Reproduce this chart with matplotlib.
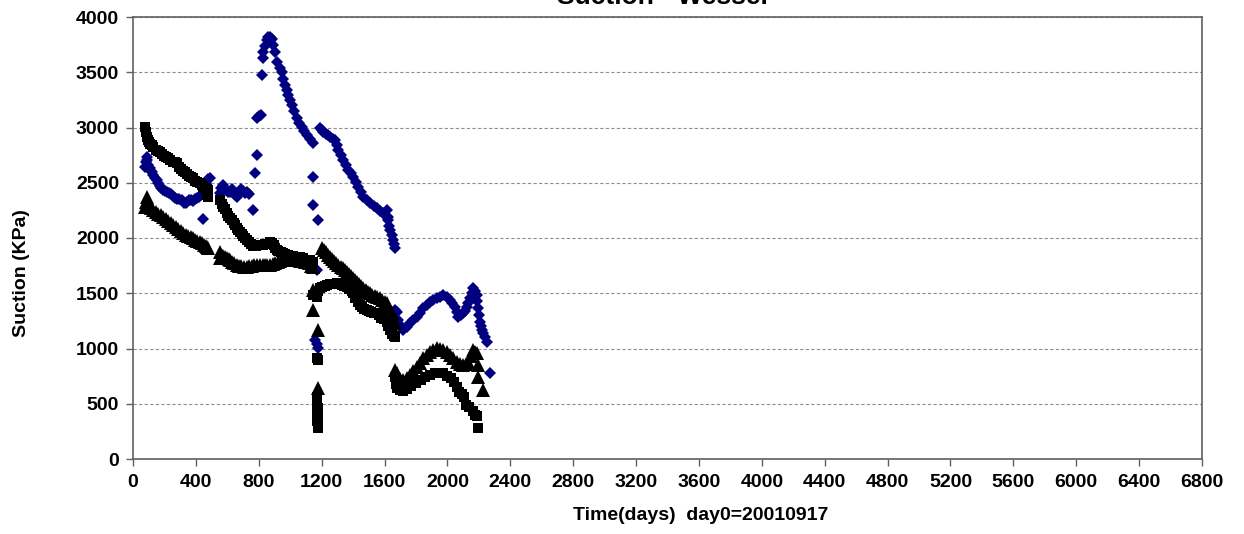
import matplotlib
matplotlib.use("Agg")
import matplotlib.pyplot as plt

# ---------------- data ----------------
blue_days = [76, 80, 86, 92, 98, 105, 112, 121, 130, 140, 150, 160, 170, 180, 191, 203, 215, 228, 240, 252,
             265, 280, 295, 310, 325, 335, 343, 355, 367, 380, 394, 408, 420, 432, 445, 455, 465, 477, 488, 445,
             553, 562, 572, 582, 592, 605, 617, 628, 640, 652, 664, 676, 688, 700, 712, 725, 737, 766,
             776, 786, 790, 800, 815, 819, 829, 829, 840, 850, 860, 871, 882, 892, 905, 914, 935, 946, 955,
             967, 977, 988, 998, 1009, 1025, 1041, 1057, 1073, 1089, 1105, 1126, 1147,
             1147, 1147, 1179, 1168, 1160, 1168, 1179,
             1190, 1200, 1211, 1225, 1240, 1253, 1270, 1285, 1296, 1306, 1322, 1338, 1354, 1370, 1386, 1402,
             1418, 1434, 1450, 1466, 1487, 1508, 1530, 1550, 1571, 1592, 1603, 1614, 1620, 1624, 1630, 1635,
             1645, 1656, 1662, 1667,
             1667, 1677, 1688, 1698, 1709, 1719, 1740, 1762, 1783, 1805, 1826, 1847, 1868, 1889, 1910, 1932,
             1953, 1974, 1995, 2016, 2032, 2048, 2060, 2070, 2085, 2101, 2112, 2122, 2133, 2144, 2155, 2165,
             2176, 2186, 2190, 2197, 2203, 2207, 2213, 2218, 2228, 2239, 2250, 2271]
blue_vals = [2640, 2690, 2730, 2710, 2660, 2630, 2610, 2595, 2570, 2545, 2525, 2495, 2470, 2450, 2435, 2425, 2420, 2405, 2395, 2380,
             2365, 2355, 2350, 2340, 2320, 2315, 2330, 2340, 2345, 2335, 2350, 2365, 2375, 2390, 2400, 2440, 2490, 2530, 2545, 2175,
             2410, 2450, 2480, 2455, 2430, 2415, 2420, 2445, 2410, 2385, 2370, 2410, 2445, 2425, 2410, 2420, 2395, 2253,
             2585, 2750, 3083, 3100, 3113, 3475, 3626, 3686, 3740, 3792, 3815, 3822, 3800, 3747, 3680, 3595, 3540, 3505, 3440,
             3385, 3340, 3294, 3250, 3204, 3145, 3083, 3045, 3007, 2970, 2932, 2895, 2857,
             2555, 2299, 2163, 1710, 1077, 1040, 1002,
             2993, 2980, 2962, 2940, 2930, 2917, 2900, 2887, 2840, 2796, 2750, 2706, 2660, 2615, 2585, 2555,
             2510, 2464, 2420, 2374, 2340, 2314, 2290, 2269, 2245, 2224, 2205, 2253, 2190, 2163, 2110, 2072,
             2030, 1982, 1945, 1907,
             1348, 1333, 1260, 1213, 1185, 1167, 1198, 1228, 1258, 1288, 1325, 1364, 1390, 1424, 1440, 1454,
             1470, 1484, 1465, 1439, 1410, 1379, 1330, 1288, 1300, 1318, 1340, 1379, 1415, 1454, 1500, 1545,
             1520, 1484, 1430, 1364, 1300, 1243, 1200, 1167, 1137, 1100, 1060, 776]

square_days = [76, 80, 87, 95, 103, 111, 119, 130, 145, 160, 172, 185, 198, 212, 225, 238, 252, 265, 278, 292,
               305, 318, 331, 345, 358, 371, 384, 397, 410, 424, 437, 448, 458, 468, 479, 479, 479, 470,
               553, 563, 574, 585, 596, 606, 617, 628, 640, 650, 660, 670, 681, 692, 702, 712, 723, 735, 750, 766,
               780, 795, 810, 825, 840, 855, 870, 882, 895, 905, 914, 925, 940, 955, 970, 985, 1000, 1020, 1041,
               1060, 1080, 1105, 1125, 1147,
               1147, 1168, 1179, 1168, 1172, 1175, 1168, 1175, 1172, 1179, 1179,
               1168, 1179, 1190, 1205, 1220, 1232, 1250, 1265, 1280, 1296, 1312, 1328, 1344, 1360, 1375, 1390,
               1402, 1415, 1430, 1444, 1458, 1472, 1487, 1500, 1515, 1530, 1550, 1565, 1580, 1595, 1614, 1625,
               1635, 1650, 1660, 1667,
               1667, 1672, 1680, 1700, 1720, 1745, 1770, 1800, 1830, 1860, 1890, 1920, 1950, 1975, 2000, 2020,
               2040, 2060, 2075, 2090, 2105, 2120, 2140, 2160, 2175, 2190, 2197]
square_vals = [3007, 2960, 2917, 2890, 2865, 2850, 2842, 2820, 2795, 2785, 2781, 2760, 2740, 2730, 2721, 2705, 2690, 2685, 2676, 2640,
               2620, 2610, 2600, 2580, 2560, 2550, 2540, 2520, 2505, 2495, 2480, 2465, 2450, 2440, 2434, 2405, 2374, 2390,
               2344, 2310, 2280, 2260, 2230, 2200, 2180, 2165, 2140, 2118, 2090, 2070, 2057, 2040, 2020, 2000, 1982, 1965, 1945, 1925,
               1930, 1937, 1937, 1940, 1945, 1950, 1960, 1952, 1935, 1910, 1891, 1880, 1870, 1860, 1855, 1845, 1840, 1835, 1831,
               1825, 1815, 1805, 1800, 1785,
               1484, 911, 896, 560, 500, 460, 420, 380, 340, 300, 277,
               1469, 1520, 1545, 1560, 1570, 1575, 1580, 1585, 1588, 1590, 1585, 1575, 1568, 1560, 1540, 1520,
               1499, 1460, 1425, 1394, 1375, 1360, 1348, 1340, 1330, 1325, 1318, 1300, 1280, 1265, 1243, 1200,
               1167, 1135, 1115, 1107,
               745, 680, 640, 620, 615, 630, 660, 690, 715, 740, 760, 775, 780, 775, 755, 730,
               700, 650, 610, 590, 560, 490, 470, 430, 400, 385, 280]

triangle_days = [76, 82, 87, 95, 105, 117, 129, 145, 161, 177, 193, 209, 225, 240, 256, 272, 288, 304, 320, 336,
                 352, 368, 384, 397, 410, 424, 437, 450, 462, 472, 479,
                 553, 553, 565, 575, 585, 596, 608, 617, 630, 645, 660, 675, 690, 705, 723, 740, 755, 770, 790,
                 808, 825, 840, 855, 871, 888, 905, 920, 935, 950, 965, 978, 995, 1010, 1025, 1041, 1060, 1080,
                 1095, 1105, 1120, 1135, 1147,
                 1147, 1147, 1179, 1179,
                 1200, 1212, 1226, 1240, 1253, 1266, 1280, 1293, 1306, 1320, 1333, 1347, 1360, 1373, 1386, 1399,
                 1412, 1425, 1439, 1452, 1466, 1480, 1494, 1508, 1523, 1540, 1555, 1571, 1585, 1600, 1614, 1625,
                 1635, 1645, 1655, 1667,
                 1667, 1677, 1688, 1700, 1719, 1740, 1762, 1783, 1805, 1826, 1847, 1868, 1889, 1910, 1932, 1953,
                 1974, 1995, 2016, 2038, 2059, 2080, 2101, 2117, 2133, 2150, 2165, 2176, 2186, 2197, 2197, 2228]
triangle_vals = [2284, 2330, 2374, 2330, 2290, 2270, 2253, 2235, 2220, 2205, 2193, 2175, 2155, 2135, 2118, 2100, 2080, 2060, 2042, 2030,
                 2020, 2010, 1997, 1985, 1975, 1965, 1952, 1940, 1925, 1915, 1906,
                 1876, 1816, 1840, 1835, 1825, 1815, 1810, 1801, 1785, 1770, 1756, 1750, 1745, 1742, 1740, 1745, 1750, 1752, 1755,
                 1756, 1758, 1756, 1755, 1756, 1765, 1775, 1785, 1790, 1810, 1825, 1831, 1815, 1805, 1800, 1801, 1795, 1790,
                 1786, 1780, 1770, 1750, 1735,
                 1529, 1348, 1167, 640,
                 1906, 1890, 1870, 1850, 1831, 1812, 1793, 1775, 1756, 1740, 1725, 1710, 1695, 1676, 1657, 1638,
                 1620, 1600, 1583, 1564, 1545, 1530, 1515, 1499, 1488, 1475, 1465, 1454, 1440, 1425, 1409, 1375,
                 1345, 1318, 1280, 1228,
                 805, 775, 745, 728, 715, 735, 760, 795, 835, 870, 911, 945, 971, 990, 1002, 998,
                 986, 965, 941, 910, 880, 862, 850, 862, 880, 930, 986, 970, 956, 850, 745, 624]

x_ticks = list(range(0, 6801, 400))
y_ticks = list(range(0, 4001, 500))

title_text = "Suction - Wessel"
x_label = "Time(days)  day0=20010917"
y_label = "Suction (KPa)"

# ---------------- figure ----------------
plt.rcParams['font.family'] = ['Liberation Sans', 'DejaVu Sans']
fig = plt.figure(figsize=(12.44, 5.34), dpi=100)
ax = fig.add_axes([133 / 1244, 1 - 459 / 534, (1202 - 133) / 1244, (459 - 17) / 534])

ax.plot(blue_days, blue_vals, linestyle='none', marker='D', markersize=6.2,
        color='#000080', markeredgewidth=0, zorder=3)
ax.plot(square_days, square_vals, linestyle='none', marker='s', markersize=7.2,
        color='black', markeredgewidth=0, zorder=3)
ax.plot(triangle_days, triangle_vals, linestyle='none', marker='^', markersize=9.5,
        color='black', markeredgewidth=0, zorder=3)

ax.set_xlim(0, 6800)
ax.set_ylim(0, 4000)
ax.set_xticks(x_ticks)
ax.set_yticks(y_ticks)
ax.tick_params(axis='both', direction='out', length=5, width=1, color='#606060',
               labelsize=14)
ax.tick_params(axis='x', pad=6)
ax.tick_params(axis='y', pad=5)
for lab in ax.get_xticklabels() + ax.get_yticklabels():
    lab.set_fontweight('bold')

ax.yaxis.grid(True, linestyle=(0, (3, 2)), color='#909090', linewidth=0.8)
ax.set_axisbelow(True)
for sp in ax.spines.values():
    sp.set_color('#606060')
    sp.set_linewidth(1.2)

ax.set_xlabel(x_label, fontsize=14, fontweight='bold')
ax.xaxis.set_label_coords((701 - 133) / 1069, (459 - 507) / 442)
ax.xaxis.label.set_verticalalignment('top')
ax.set_ylabel(y_label, fontsize=14, fontweight='bold')
ax.yaxis.set_label_coords((30 - 133) / 1069, (459 - 273) / 442)

fig.text(662 / 1244, 1 - 4 / 534, title_text, ha='center', va='baseline',
         fontsize=19, fontweight='bold')

fig.savefig('out.png', dpi=100)
